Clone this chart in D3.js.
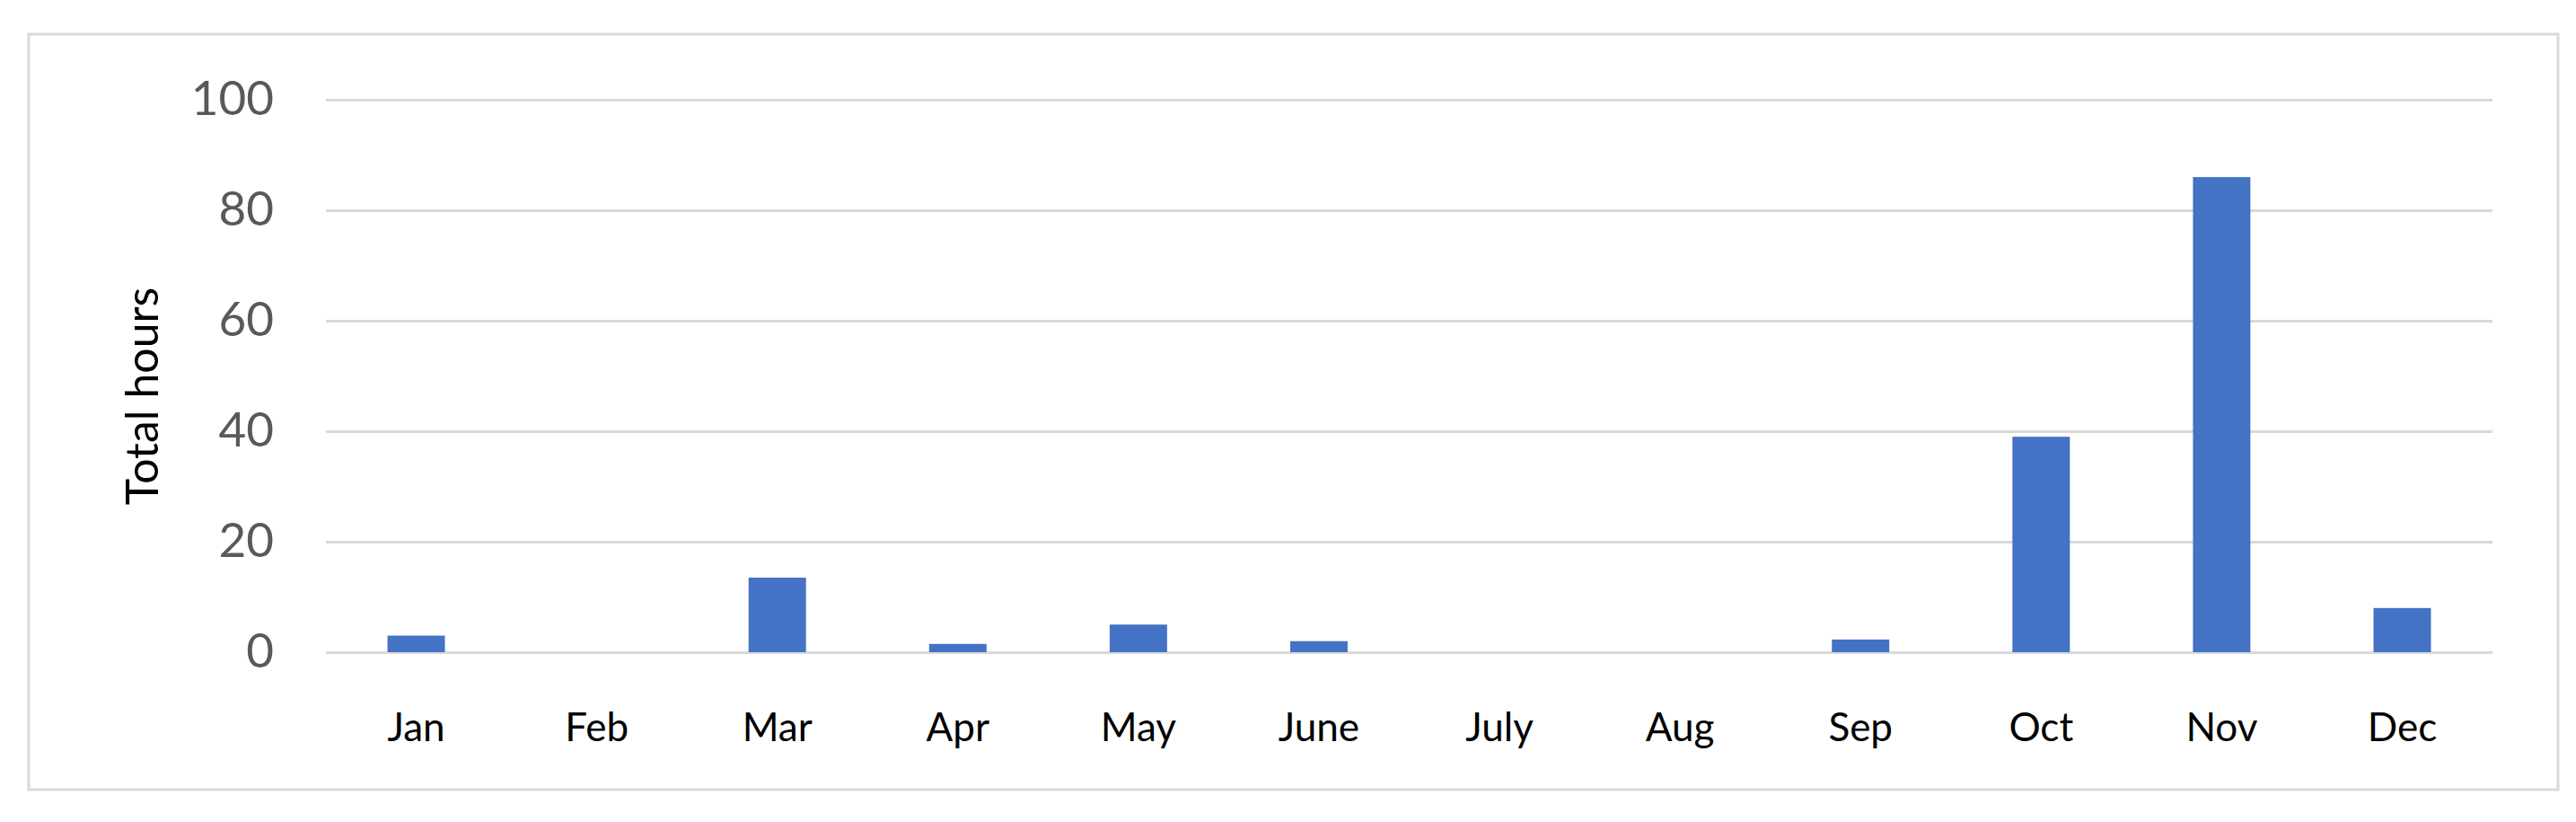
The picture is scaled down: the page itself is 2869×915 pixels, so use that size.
<!DOCTYPE html>
<html>
<head>
<meta charset="utf-8">
<script src="https://cdn.jsdelivr.net/npm/d3@7"></script>
<style>
  html, body { margin: 0; padding: 0; background: #fff; }
  svg { display: block; }
</style>
</head>
<body>
<div id="chart"></div>
<script>
// Data
var months = ["Jan", "Feb", "Mar", "Apr", "May", "June", "July", "Aug", "Sep", "Oct", "Nov", "Dec"];
var hours = [3, 0, 13.5, 1.5, 5, 2, 0, 0, 2.3, 39, 86, 8];
var yTicks = [0, 20, 40, 60, 80, 100];
var yTitle = "Total hours";

//Size of the page and of the plot area.
var width = 2869, height = 915;
var plot = { left: 363, right: 2776, top: 111, bottom: 726 };

var svg = d3.select("#chart").append("svg")
    .attr("width", width)
    .attr("height", height);

//Chart frame.
svg.append("rect")
    .attr("x", 32).attr("y", 38)
    .attr("width", 2849 - 32).attr("height", 879 - 38)
    .attr("fill", "#fff")
    .attr("stroke", "#d9d9d9")
    .attr("stroke-width", 3);

//Scales.
var x = d3.scaleBand()
    .domain(months)
    .range([plot.left, plot.right])
    .paddingInner(0.682)
    .paddingOuter(0.341);

var y = d3.scaleLinear()
    .domain([0, 100])
    .range([plot.bottom, plot.top]);

//Y axis with gridlines.
var yAxis = svg.append("g")
    .attr("transform", "translate(" + plot.left + ",0)")
    .call(d3.axisLeft(y)
        .tickValues(yTicks)
        .tickSize(-(plot.right - plot.left))
        .tickPadding(58));

yAxis.select(".domain").remove();
yAxis.selectAll(".tick line")
    .attr("stroke", "#d9d9d9")
    .attr("stroke-width", 3);
yAxis.selectAll(".tick text")
    .attr("fill", "#595959")
    .style("font-family", "Lato, 'Open Sans', sans-serif")
    .style("font-size", "53px");

//Bars.
svg.append("g")
    .selectAll("rect")
    .data(hours)
    .enter().append("rect")
    .attr("x", function(d, i) { return x(months[i]); })
    .attr("y", function(d) { return y(d); })
    .attr("width", x.bandwidth())
    .attr("height", function(d) { return y(0) - y(d); })
    .attr("fill", "#4472c4");

//X axis labels.
var xAxis = svg.append("g")
    .attr("transform", "translate(0," + plot.bottom + ")")
    .call(d3.axisBottom(x).tickSize(0).tickPadding(68));

xAxis.select(".domain").remove();
xAxis.selectAll(".tick text")
    .attr("fill", "#000")
    .style("font-family", "Lato, 'Open Sans', sans-serif")
    .style("font-size", "44px");

//Y axis title.
svg.append("text")
    .attr("transform", "translate(176,441) rotate(-90)")
    .attr("text-anchor", "middle")
    .attr("fill", "#000")
    .style("font-family", "Lato, sans-serif")
    .style("font-size", "50px")
    .text(yTitle);
</script>
</body>
</html>
